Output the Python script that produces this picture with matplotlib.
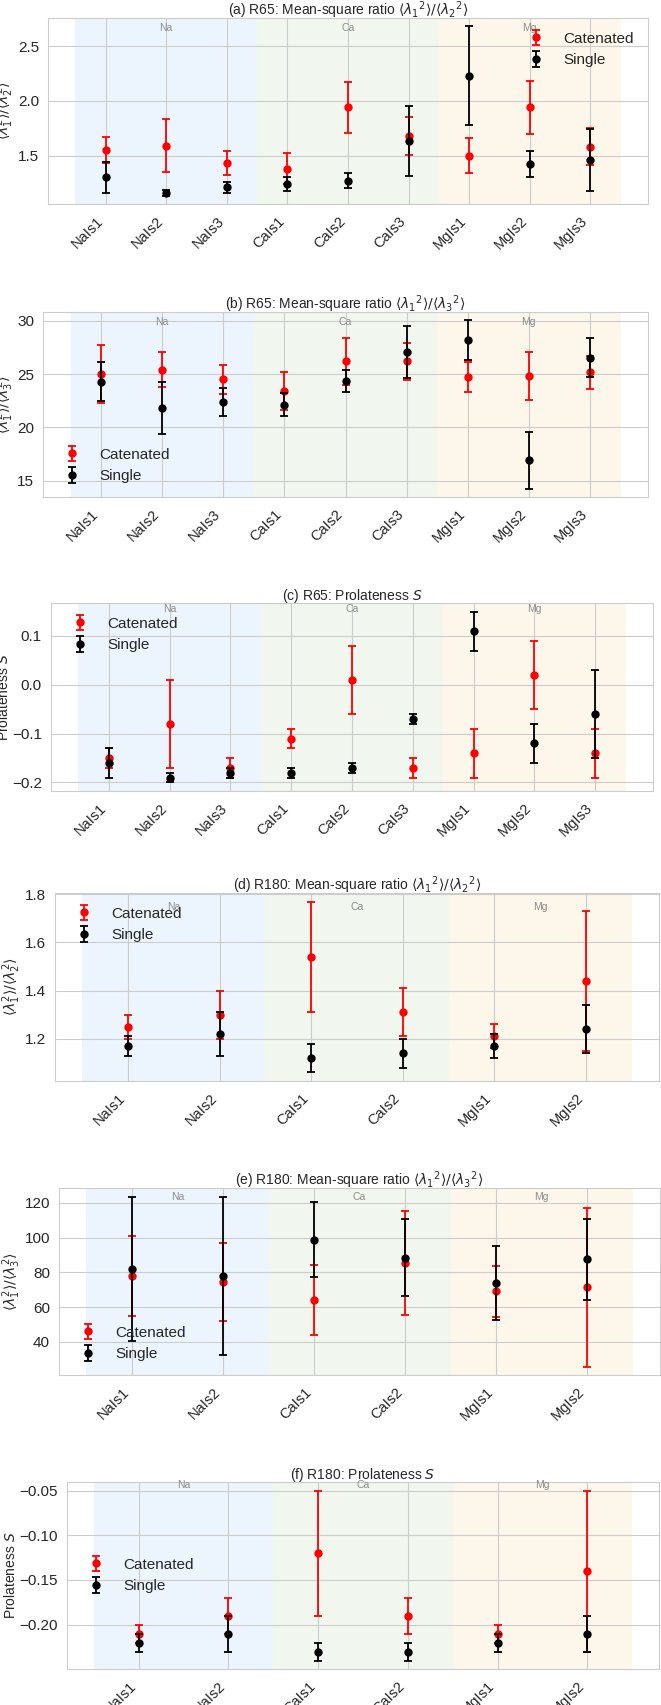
import matplotlib
matplotlib.use('Agg')
import matplotlib.pyplot as plt
import seaborn as sns

sns.set_style('whitegrid')
plt.rcParams['font.family'] = ['Liberation Sans', 'DejaVu Sans']

# --- data ---
labels_r65 = ['NaIs1', 'NaIs2', 'NaIs3', 'CaIs1', 'CaIs2', 'CaIs3', 'MgIs1', 'MgIs2', 'MgIs3']
labels_r180 = ['NaIs1', 'NaIs2', 'CaIs1', 'CaIs2', 'MgIs1', 'MgIs2']
groups = ['Na', 'Ca', 'Mg']

# R65 <l1^2>/<l2^2>
r65_l12_cat = [1.55, 1.59, 1.43, 1.38, 1.94, 1.68, 1.50, 1.94, 1.58]
r65_l12_cat_err = [0.12, 0.24, 0.11, 0.14, 0.23, 0.17, 0.16, 0.24, 0.17]
r65_l12_sin = [1.30, 1.16, 1.21, 1.24, 1.27, 1.63, 2.23, 1.42, 1.46]
r65_l12_sin_err = [0.14, 0.025, 0.05, 0.06, 0.07, 0.32, 0.45, 0.12, 0.28]

# R65 <l1^2>/<l3^2>
r65_l13_cat = [25.0, 25.4, 24.5, 23.4, 26.2, 26.2, 24.7, 24.8, 25.2]
r65_l13_cat_err = [2.7, 1.65, 1.4, 1.8, 2.2, 1.75, 1.4, 2.25, 1.55]
r65_l13_sin = [24.3, 21.85, 22.4, 22.15, 24.35, 27.1, 28.2, 16.9, 26.55]
r65_l13_sin_err = [1.85, 2.45, 1.3, 1.05, 1.0, 2.45, 1.85, 2.65, 1.85]

# R65 prolateness S
r65_s_cat = [-0.15, -0.08, -0.17, -0.11, 0.01, -0.17, -0.14, 0.02, -0.14]
r65_s_cat_err = [0.02, 0.09, 0.02, 0.02, 0.07, 0.02, 0.05, 0.07, 0.05]
r65_s_sin = [-0.16, -0.19, -0.18, -0.18, -0.17, -0.07, 0.11, -0.12, -0.06]
r65_s_sin_err = [0.03, 0.01, 0.01, 0.01, 0.01, 0.01, 0.04, 0.04, 0.09]

# R180 <l1^2>/<l2^2>
r180_l12_cat = [1.25, 1.30, 1.54, 1.31, 1.21, 1.44]
r180_l12_cat_err = [0.05, 0.10, 0.23, 0.10, 0.05, 0.29]
r180_l12_sin = [1.17, 1.22, 1.12, 1.14, 1.17, 1.24]
r180_l12_sin_err = [0.04, 0.09, 0.06, 0.06, 0.05, 0.10]

# R180 <l1^2>/<l3^2>
r180_l13_cat = [77.8, 74.7, 64.2, 85.3, 69.0, 71.3]
r180_l13_cat_err = [23.1, 22.5, 20.3, 30.0, 14.5, 45.5]
r180_l13_sin = [82.0, 78.0, 98.7, 88.5, 73.8, 87.6]
r180_l13_sin_err = [41.7, 45.5, 21.6, 22.3, 21.5, 23.4]

# R180 prolateness S
r180_s_cat = [-0.21, -0.19, -0.12, -0.19, -0.21, -0.14]
r180_s_cat_err = [0.01, 0.02, 0.07, 0.02, 0.01, 0.09]
r180_s_sin = [-0.22, -0.21, -0.23, -0.23, -0.22, -0.21]
r180_s_sin_err = [0.01, 0.02, 0.01, 0.01, 0.01, 0.02]

ylab12 = r'$\langle\lambda_1^2\rangle/\langle\lambda_2^2\rangle$'
ylab13 = r'$\langle\lambda_1^2\rangle/\langle\lambda_3^2\rangle$'
ylabS = r'Prolateness $S$'
t12 = r'$\langle\lambda_{1}{}^{2}\rangle/\langle\lambda_{2}{}^{2}\rangle$'
t13 = r'$\langle\lambda_{1}{}^{2}\rangle/\langle\lambda_{3}{}^{2}\rangle$'

panels = [
    ('(a) R65: Mean-square ratio ' + t12, ylab12, labels_r65,
     r65_l12_cat, r65_l12_cat_err, r65_l12_sin, r65_l12_sin_err, 'upper right', 0.946),
    ('(b) R65: Mean-square ratio ' + t13, ylab13, labels_r65,
     r65_l13_cat, r65_l13_cat_err, r65_l13_sin, r65_l13_sin_err, 'lower left', 0.946),
    (r'(c) R65: Prolateness $S$', ylabS, labels_r65,
     r65_s_cat, r65_s_cat_err, r65_s_sin, r65_s_sin_err, 'upper left', 0.968),
    ('(d) R180: Mean-square ratio ' + t12, ylab12, labels_r180,
     r180_l12_cat, r180_l12_cat_err, r180_l12_sin, r180_l12_sin_err, 'upper left', 0.926),
    ('(e) R180: Mean-square ratio ' + t13, ylab13, labels_r180,
     r180_l13_cat, r180_l13_cat_err, r180_l13_sin, r180_l13_sin_err, 'lower left', 0.952),
    (r'(f) R180: Prolateness $S$', ylabS, labels_r180,
     r180_s_cat, r180_s_cat_err, r180_s_sin, r180_s_sin_err, 'center left', 0.984),
]

# axes boxes in pixels: left, right, top, bottom
boxes = [(48, 648, 18, 204), (43, 648, 312, 497), (51, 653, 603, 791),
         (55, 659, 893, 1081), (59, 660, 1188, 1375), (67, 659, 1482, 1669)]
band_colors = ['#ecf5fd', '#f1f7ee', '#fdf6ea']

W, H = 661, 1705
fig = plt.figure(figsize=(W / 100, H / 100), dpi=100)

for (title, ylab, labels, cat, cat_err, sin, sin_err, loc, gy), (l, r, t, b) in zip(panels, boxes):
    ax = fig.add_axes([l / W, 1 - b / H, (r - l) / W, (b - t) / H])
    n = len(labels)
    per = n // 3
    x = list(range(n))
    for g in range(3):
        lo = g * per - 0.5
        hi = (g + 1) * per - 0.5
        ax.axvspan(lo, hi, color=band_colors[g], zorder=0, lw=0)
        ax.text((lo + hi) / 2, gy, groups[g], transform=ax.get_xaxis_transform(),
                ha='center', va='center', fontsize=7.5, color='#8c8c8c')
    ax.errorbar(x, cat, yerr=cat_err, fmt='o', color='red', ms=5, elinewidth=1.3,
                capsize=3, capthick=1.3, label='Catenated', zorder=3)
    ax.errorbar(x, sin, yerr=sin_err, fmt='o', color='black', ms=5, elinewidth=1.3,
                capsize=3, capthick=1.3, label='Single', zorder=4)
    ax.set_xticks(x)
    ax.set_xticklabels(labels, rotation=45, ha='right', fontsize=10.5)
    ax.tick_params(axis='y', labelsize=11, pad=3)
    if ylab == ylabS:
        ax.set_ylabel(ylab, fontsize=10, labelpad=1)
    else:
        ax.set_ylabel(ylab, fontsize=10, labelpad=1)
    ax.set_title(title, fontsize=10, pad=2)
    ax.set_axisbelow(True)
    ax.legend(loc=loc, fontsize=11, frameon=False)

fig.savefig('out.png', dpi=100)
